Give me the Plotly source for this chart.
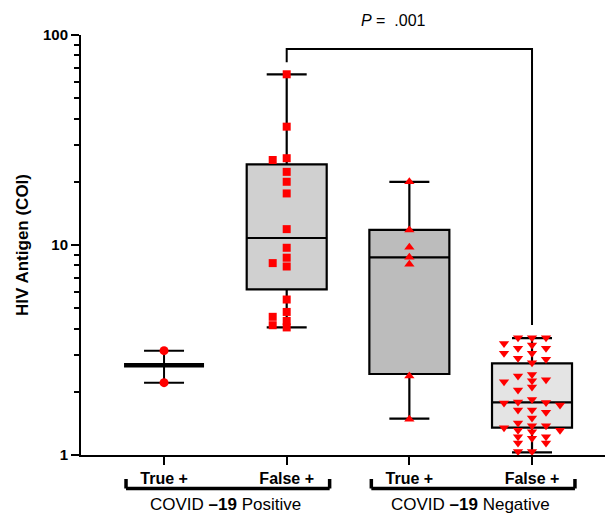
import math
import plotly.graph_objects as go

# ---------------- data ----------------
categories = ["True +", "False +", "True +", "False +"]
group_labels = ["COVID <b>–19</b> Positive", "COVID <b>–19</b> Negative"]
group_members = [[0, 1], [2, 3]]

tp_pos = [3.14, 2.21]
fp_pos = [65.0, 36.6, 25.9, 25.4, 22.3, 20.0, 17.6, 11.9, 9.7, 8.7, 8.2, 7.9,
          5.5, 4.8, 4.55, 4.35, 4.15, 4.05]
tp_neg = [20.0, 11.8, 9.75, 8.74, 8.09, 2.38, 1.48]
fn_neg = [3.62, 3.62, 3.62, 3.40, 3.34, 3.22, 3.22, 3.05, 3.05, 2.89, 2.86, 2.75,
          2.42, 2.38, 2.23, 2.26, 2.28, 2.11, 2.04,
          1.77, 1.79, 1.84, 1.78, 1.73, 1.64, 1.64, 1.60, 1.50,
          1.38, 1.38, 1.42, 1.35, 1.29, 1.31, 1.31, 1.22, 1.22, 1.14, 1.14, 1.20,
          1.04, 1.04]

# box statistics (min, q1, median, q3, max) for categories 1..3
box_cats = [1, 2, 3]
box_min = [4.05, 1.49, 1.03]
box_q1 = [6.15, 2.43, 1.35]
box_med = [10.8, 8.74, 1.78]
box_q3 = [24.2, 11.8, 2.73]
box_max = [65.0, 20.0, 3.60]

p_text = ".001"
p_pair = [1, 3]

y_ticks = [1, 10, 100]
y_minor = [2, 3, 4, 5, 6, 7, 8, 9, 20, 30, 40, 50, 60, 70, 80, 90]

# ---------------- layout geometry / styles ----------------
W, H = 605, 515
ML, MR, MT, MB = 81, 0, 35, 60
XR = [-0.677, 3.595]
YR = [0, 2]
plot_w = W - ML - MR
plot_h = H - MT - MB
px_x = plot_w / (XR[1] - XR[0])
px_dec = plot_h / (YR[1] - YR[0])

FONT = "Liberation Sans, Arial, sans-serif"
RED = "#ff0000"
box_fill = ["#d0d0d0", "#bcbcbc", "#e4e4e4"]
BOX_W = 80 / px_x


def swarm(values, step_px=14, thr_px=6.0):
    ypx = [math.log10(v) * px_dec for v in values]
    order = sorted(range(len(values)), key=lambda i: -values[i])
    placed = []
    off = [0] * len(values)
    for i in order:
        for k in [0, -1, 1, -2, 2, -3, 3, -4, 4]:
            if all(not (pk == k and abs(py - ypx[i]) < thr_px) for pk, py in placed):
                off[i] = k
                placed.append((k, ypx[i]))
                break
    return [k * step_px / px_x for k in off]


fig = go.Figure()

# boxes
for i, c in enumerate(box_cats):
    fig.add_trace(go.Box(
        x=[c], q1=[box_q1[i]], median=[box_med[i]], q3=[box_q3[i]],
        lowerfence=[box_min[i]], upperfence=[box_max[i]],
        width=BOX_W, whiskerwidth=0.5, fillcolor=box_fill[i],
        line=dict(color="black", width=2.2), boxpoints=False,
        hoverinfo="skip", showlegend=False))

# True + / COVID positive: mean with range
c0 = 0
mean0 = sum(tp_pos) / len(tp_pos)
half = BOX_W / 2
cap = BOX_W / 4
fig.add_trace(go.Scatter(x=[c0, c0], y=[min(tp_pos), max(tp_pos)], mode="lines",
                         line=dict(color="black", width=2), hoverinfo="skip", showlegend=False))
for v in [min(tp_pos), max(tp_pos)]:
    fig.add_trace(go.Scatter(x=[c0 - cap, c0 + cap], y=[v, v], mode="lines",
                             line=dict(color="black", width=2), hoverinfo="skip", showlegend=False))
fig.add_trace(go.Scatter(x=[c0 - half, c0 + half], y=[mean0, mean0], mode="lines",
                         line=dict(color="black", width=4.5), hoverinfo="skip", showlegend=False))

# points
series = [(0, tp_pos, "circle", 9), (1, fp_pos, "square", 8),
          (2, tp_neg, "triangle-up", 9), (3, fn_neg, "triangle-down", 9)]
for c, vals, sym, sz in series:
    offs = swarm(vals)
    fig.add_trace(go.Scatter(
        x=[c + o for o in offs], y=vals, mode="markers",
        marker=dict(symbol=sym, size=sz, color=RED, line=dict(width=0)),
        cliponaxis=False, hoverinfo="skip", showlegend=False))

# significance bracket
a, b = p_pair
top = max(fp_pos) * 1.32
fig.add_trace(go.Scatter(
    x=[a, a, b, b], y=[max(fp_pos) * 1.14, top, top, max(fn_neg) * 1.15],
    mode="lines", line=dict(color="black", width=2), hoverinfo="skip", showlegend=False))
fig.add_annotation(x=(a + b) / 2, y=1, xref="x", yref="paper", yanchor="middle",
                   yshift=15, xshift=-16, showarrow=False,
                   text="<i>P</i> =&nbsp;&nbsp;" + p_text,
                   font=dict(family=FONT, size=16, color="black"))

# group brackets and labels below the axis
yb = -(488.5 - (H - MB)) / plot_h
yh = -(479 - (H - MB)) / plot_h
yl = -(504 - (H - MB)) / plot_h
for g, mem in enumerate(group_members):
    x0 = min(mem) - 0.31
    x1 = max(mem) + 0.35
    lw = 3.5
    fig.add_shape(type="line", xref="x", yref="paper", x0=x0, x1=x1, y0=yb, y1=yb,
                  line=dict(color="black", width=lw))
    for xx in (x0, x1):
        fig.add_shape(type="line", xref="x", yref="paper", x0=xx, x1=xx, y0=yb, y1=yh,
                      line=dict(color="black", width=lw))
    fig.add_annotation(x=sum(mem) / len(mem), y=yl, xref="x", yref="paper",
                       yanchor="middle", showarrow=False, text=group_labels[g],
                       font=dict(family=FONT, size=17, color="black"))

fig.update_layout(
    width=W, height=H, margin=dict(l=ML, r=MR, t=MT, b=MB),
    paper_bgcolor="white", plot_bgcolor="white",
    font=dict(family=FONT, color="black"),
    xaxis=dict(range=XR, tickvals=list(range(len(categories))),
               ticktext=["<b>%s</b>" % t for t in categories],
               ticks="outside", ticklen=8, tickwidth=2, tickcolor="black",
               showline=True, linewidth=2, linecolor="black", automargin=False,
               showgrid=False, zeroline=False, tickfont=dict(size=16, family=FONT)),
    yaxis=dict(type="log", range=YR, tickvals=y_ticks,
               ticktext=["<b>%d</b>" % t for t in y_ticks],
               ticks="outside", ticklen=8, tickwidth=2, tickcolor="black",
               minor=dict(tickvals=y_minor, ticks="outside", ticklen=5, tickwidth=2,
                          tickcolor="black", showgrid=False),
               showline=True, linewidth=2, linecolor="black", automargin=False,
               showgrid=False, zeroline=False, tickfont=dict(size=15, family=FONT),
               title=dict(text="<b>HIV Antigen (COI)</b>", font=dict(size=17, family=FONT),
                          standoff=10)),
)

fig.write_html("out.html", config={"displayModeBar": False},
               post_script="document.body.style.margin='0';document.body.style.overflow='hidden';")
